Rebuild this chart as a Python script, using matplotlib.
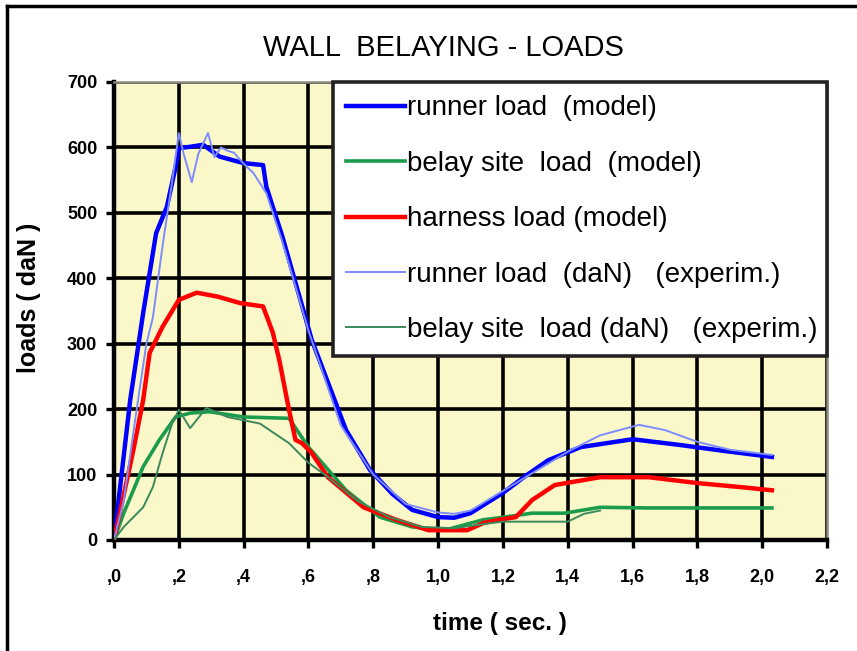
import matplotlib
matplotlib.use("Agg")
import matplotlib.pyplot as plt
from matplotlib.lines import Line2D

# runner load (model)
t_runner = [0, 0.05, 0.09, 0.13, 0.163, 0.19, 0.2, 0.235, 0.275, 0.326, 0.4, 0.46, 0.47, 0.52, 0.59, 0.61,
            0.716, 0.79, 0.86, 0.92, 1.0, 1.05, 1.1, 1.2, 1.27, 1.34, 1.44, 1.6, 1.75, 1.9, 2.03]
runner = [0, 214, 347, 469, 509, 570, 599, 601, 604, 586, 576, 573, 540, 463, 341, 306,
          168, 107, 70, 46, 35, 34, 41, 72, 98, 122, 142, 154, 145, 135, 127]

# belay site load (model)
t_belay = [0, 0.03, 0.09, 0.14, 0.19, 0.235, 0.295, 0.4, 0.54, 0.6, 0.716, 0.82, 0.92, 1.02, 1.14, 1.19,
           1.29, 1.39, 1.5, 1.65, 2.03]
belay = [0, 41, 112, 153, 188, 194, 196, 188, 186, 142, 76, 35, 20, 15, 31, 34,
         41, 41, 50, 49, 49]

# harness load (model)
t_harness = [0, 0.02, 0.06, 0.09, 0.11, 0.15, 0.2, 0.255, 0.32, 0.39, 0.46, 0.49, 0.51, 0.54, 0.56, 0.58,
             0.61, 0.66, 0.77, 0.87, 0.97, 1.09, 1.14, 1.19, 1.24, 1.29, 1.36, 1.5, 1.65, 1.8, 1.93, 2.03]
harness = [0, 46, 138, 214, 286, 326, 367, 378, 372, 362, 357, 317, 275, 199, 153, 148,
           133, 96, 50, 31, 15, 15, 26, 31, 35, 61, 84, 96, 96, 87, 81, 76]

# runner load (experiment)
t_runner_exp = [0, 0.03, 0.07, 0.1, 0.12, 0.15, 0.18, 0.2, 0.215, 0.24, 0.26, 0.29, 0.31, 0.33, 0.35, 0.37,
                0.4, 0.43, 0.47, 0.52, 0.6, 0.7, 0.8, 0.9, 1.0, 1.05, 1.1, 1.2, 1.3, 1.4, 1.5, 1.62,
                1.7, 1.8, 1.9, 2.03]
runner_exp = [0, 60, 200, 300, 340, 450, 550, 622, 590, 547, 590, 622, 585, 600, 595, 592,
              575, 561, 530, 455, 320, 175, 100, 55, 42, 40, 45, 75, 105, 135, 160, 176,
              168, 150, 138, 130]

# belay site load (experiment)
t_belay_exp = [0, 0.03, 0.09, 0.12, 0.15, 0.18, 0.2, 0.235, 0.285, 0.35, 0.45, 0.54, 0.6, 0.65, 0.75,
               0.85, 0.95, 1.05, 1.15, 1.2, 1.4, 1.45, 1.5]
belay_exp = [0, 20, 50, 81, 133, 179, 199, 171, 202, 188, 178, 148, 118, 100, 60,
             35, 20, 18, 25, 28, 28, 40, 45]

x_ticks = [0, 0.2, 0.4, 0.6, 0.8, 1.0, 1.2, 1.4, 1.6, 1.8, 2.0, 2.2]
x_labels = [",0", ",2", ",4", ",6", ",8", "1,0", "1,2", "1,4", "1,6", "1,8", "2,0", "2,2"]
y_ticks = [0, 100, 200, 300, 400, 500, 600, 700]

plt.rcParams["font.family"] = ["Liberation Sans", "DejaVu Sans"]

W, H = 857, 651
fig = plt.figure(figsize=(W / 100, H / 100), dpi=100)
ax = fig.add_axes([114 / W, (H - 540) / H, 713 / W, 458 / H])
ax.set_facecolor("#faf7c9")

ax.plot(t_runner, runner, color="#0000ff", lw=3.2, label="runner load  (model)", zorder=3)
ax.plot(t_belay, belay, color="#1a9c4c", lw=2.6, label="belay site  load  (model)", zorder=3)
ax.plot(t_harness, harness, color="#ff0000", lw=3.2, label="harness load (model)", zorder=3)
ax.plot(t_runner_exp, runner_exp, color="#7d8cff", lw=1.4, label="runner load  (daN)   (experim.)", zorder=4)
ax.plot(t_belay_exp, belay_exp, color="#3b8a5c", lw=1.4, label="belay site  load (daN)   (experim.)", zorder=4)

ax.set_xlim(0, 2.2)
ax.set_ylim(0, 700)
ax.set_xticks(x_ticks)
ax.set_xticklabels(x_labels, fontweight="bold")
ax.set_yticks(y_ticks)
ax.set_yticklabels([str(v) for v in y_ticks], fontweight="bold")
ax.grid(True, color="black", lw=2.6, zorder=1)
ax.set_axisbelow(True)
ax.tick_params(direction="out", length=6, width=2.4, labelsize=13)
ax.tick_params(axis="x", pad=15)
ax.tick_params(axis="y", pad=6)

for side in ["left", "bottom"]:
    ax.spines[side].set_linewidth(3.2)
    ax.spines[side].set_color("black")
for side in ["top", "right"]:
    ax.spines[side].set_linewidth(1.8)
    ax.spines[side].set_color("#8a8a7a")

ax.set_xlabel("time ( sec. )", fontsize=17.5, fontweight="bold")
ax.xaxis.set_label_coords(0.541, -0.157)
ax.set_ylabel("loads ( daN )", fontsize=18, fontweight="bold")
ax.yaxis.set_label_coords(-0.102, 0.528)
fig.text(443 / W, 1 - 48 / H, "WALL  BELAYING - LOADS", fontsize=21, ha="center", va="center")

leg = ax.legend(loc="upper left", bbox_to_anchor=(219 / 713, 182 / 458, 494 / 713, 276 / 458),
                mode="expand", borderaxespad=0, fontsize=20, labelspacing=1.06,
                handlelength=2.1, handletextpad=0.1, borderpad=0.48, fancybox=False,
                framealpha=1, edgecolor="#222222")
leg.get_frame().set_linewidth(2.6)
leg.set_zorder(5)

# outer frame of the picture
fig.add_artist(Line2D([7 / W, 7 / W], [0, 1 - 6 / H], color="black", lw=2.5))
fig.add_artist(Line2D([7 / W, 1], [1 - 6 / H, 1 - 6 / H], color="black", lw=2.5))

fig.savefig("out.png", dpi=100)
